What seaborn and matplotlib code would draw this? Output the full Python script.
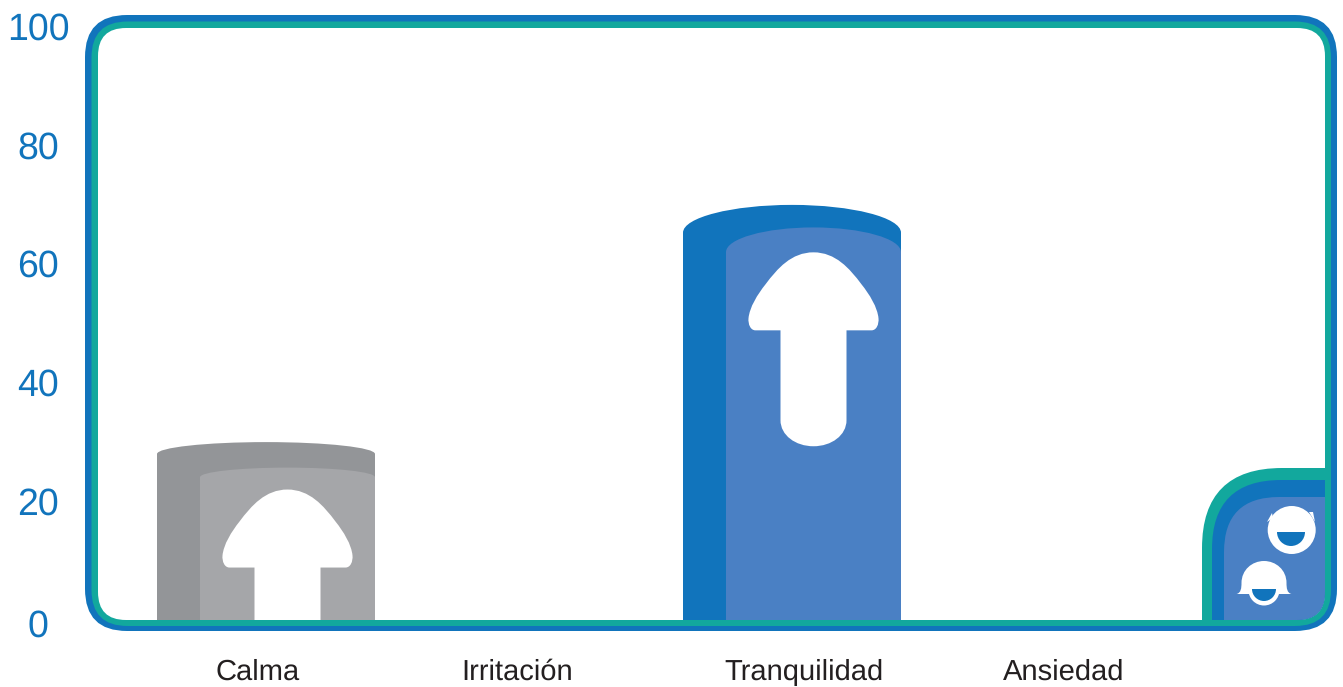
from __future__ import annotations

import matplotlib.pyplot as plt
import seaborn as sns
from matplotlib.patches import Circle, FancyBboxPatch, PathPatch, Wedge
from matplotlib.path import Path
from matplotlib.transforms import IdentityTransform, ScaledTranslation

categories = ['Calma', 'Irritación', 'Tranquilidad', 'Ansiedad']
outer_values = [30, 0, 70, 0]
inner_values = [25.7, 0, 66.2, 0]
arrow_tops = [22, 0, 62, 0]
arrow_tails = [0, 0, 29.3, 0]
y_ticks = [0, 20, 40, 60, 80, 100]

outer_colors = ['#939598', '#939598', '#1174bc', '#1174bc']
inner_colors = ['#a5a6a9', '#a5a6a9', '#4a80c4', '#4a80c4']
BLUE = '#1174bc'
LIGHT = '#4a80c4'
TEAL = '#12a89d'

W, H = 1343, 687
AX_L, AX_R, AX_T, AX_B = 98, 1325, 27, 620
CAT_PX = 263
FIRST_CAT = 266
UNIT_PX = (AX_B - AX_T) / 100

sns.set_theme(style="white")
plt.rcParams['font.family'] = ['Liberation Sans', 'DejaVu Sans']
plt.rcParams['text.hinting'] = 'no_hinting'

fig = plt.figure(figsize=(W / 100, H / 100), dpi=100)
ax = fig.add_axes([AX_L / W, 1 - AX_B / H, (AX_R - AX_L) / W, (AX_B - AX_T) / H])
ax.patch.set_visible(False)


def px_box(x0, y0, x1, y1, r, color, clip=None):
    box = FancyBboxPatch((x0, H - y1), x1 - x0, y1 - y0, boxstyle=f"round,pad=0,rounding_size={r}",
                         fc=color, ec='none', lw=0, transform=IdentityTransform(), zorder=-5)
    if clip is not None:
        box.set_clip_path(clip)
    fig.add_artist(box)
    return box


def dome_bar(x0, x1, top, drop, color):
    mid = (x0 + x1) / 2
    k = 0.55
    verts = [(x0, 0), (x0, top - drop),
             (x0, top - drop + drop * k), (mid - (mid - x0) * k, top), (mid, top),
             (mid + (x1 - mid) * k, top), (x1, top - drop + drop * k), (x1, top - drop),
             (x1, 0), (x0, 0)]
    codes = [Path.MOVETO, Path.LINETO] + [Path.CURVE4] * 6 + [Path.LINETO, Path.CLOSEPOLY]
    ax.add_patch(PathPatch(Path(verts, codes), fc=color, ec='none', lw=0))


def arrow_up(cx, top, tail):
    # shape is drawn in pixels from the tip, then moved to data units
    end = (top - tail) * UNIT_PX
    verts = [(-33, 78), (-58, 78), (-63, 78), (-65.5, 72), (-65, 66), (-64, 55), (-56, 42), (-48, 32),
             (-36, 16), (-22, 0), (0, 0), (22, 0), (36, 16), (48, 32), (56, 42), (64, 55), (65, 66),
             (65.5, 72), (63, 78), (58, 78), (33, 78)]
    codes = [Path.MOVETO, Path.LINETO] + [Path.CURVE4] * 18 + [Path.LINETO]
    if tail > 0:
        verts += [(33, end - 26), (33, end - 11), (18, end), (0, end), (-18, end), (-33, end - 11), (-33, end - 26)]
        codes += [Path.LINETO] + [Path.CURVE4] * 6
    else:
        verts += [(33, end), (-33, end)]
        codes += [Path.LINETO, Path.LINETO]
    verts.append((-33, 78))
    codes.append(Path.CLOSEPOLY)
    data = [(cx + dx / CAT_PX, top - dy / UNIT_PX) for dx, dy in verts]
    ax.add_patch(PathPatch(Path(data, codes), fc='white', ec='none', lw=0))


# frame and the corner tab
px_box(85, 15, 1337, 631, 42, BLUE)
px_box(91.5, 21.5, 1331, 626, 36, TEAL)
inner_box = px_box(98, 28, 1325, 620, 28, 'white')
px_box(1202, 468, 1420, 720, 80, TEAL, clip=inner_box)
px_box(1212, 480, 1420, 720, 69, BLUE, clip=inner_box)
px_box(1224, 497, 1420, 720, 55, LIGHT, clip=inner_box)

# bars
sns.barplot(x=categories, y=outer_values, hue=categories, palette=outer_colors, width=218 / CAT_PX,
            saturation=1, legend=False, ax=ax)
outer_bars = list(ax.patches)
sns.barplot(x=categories, y=inner_values, hue=categories, palette=inner_colors, width=175 / CAT_PX,
            saturation=1, legend=False, ax=ax)
inner_bars = list(ax.patches)[len(outer_bars):]

for outer, inner, top, tail in zip(outer_bars, inner_bars, arrow_tops, arrow_tails):
    if outer.get_height() == 0:
        outer.remove()
        inner.remove()
        continue
    x0, x1 = outer.get_x(), outer.get_x() + outer.get_width()
    h_out, h_in = outer.get_height(), inner.get_height()
    c_out, c_in = outer.get_facecolor(), inner.get_facecolor()
    w_in = inner.get_width()
    outer.remove()
    inner.remove()
    dome_bar(x0, x1, h_out, h_out * 0.067, c_out)
    dome_bar(x1 - w_in, x1, h_in, h_in * 0.063, c_in)
    arrow_up(x1 - w_in / 2, top, tail)

ax.set_xlim((AX_L - FIRST_CAT) / CAT_PX, (AX_R - FIRST_CAT) / CAT_PX)
ax.set_ylim(0, 100)
sns.despine(ax=ax, left=True, bottom=True)
ax.set_xlabel('')
ax.set_ylabel('')
ax.set_yticks(y_ticks)
ax.set_xticks(range(len(categories)), categories)
ax.tick_params(axis='y', length=0, pad=43, labelsize=27, labelcolor=BLUE)
ax.tick_params(axis='x', length=0, pad=28, labelsize=21, labelcolor='#231f20')
for label, shift in zip(ax.get_yticklabels(), [-2.5, 1, 1, 1, 1, 1]):
    label.set_ha('center')
    label.set_transform(label.get_transform() + ScaledTranslation(0, shift / 100, fig.dpi_scale_trans))
for label, shift in zip(ax.get_xticklabels(), [-8, -12, 12, 9]):
    label.set_transform(label.get_transform() + ScaledTranslation(shift / 100, 0, fig.dpi_scale_trans))


def px_add(patch):
    patch.set_transform(IdentityTransform())
    patch.set_zorder(-4)
    patch.set_clip_path(inner_box)
    fig.add_artist(patch)


# male icon
px_add(Circle((1291.7, H - 530), 24, fc='white', ec='none', lw=0))
px_add(PathPatch(Path([(1267, H - 522), (1273, H - 518), (1272, H - 513), (1267, H - 522)],
                      [Path.MOVETO, Path.LINETO, Path.LINETO, Path.CLOSEPOLY]), fc='white', ec='none', lw=0))
px_add(PathPatch(Path([(1315, H - 522), (1309, H - 512), (1313, H - 512), (1315, H - 522)],
                      [Path.MOVETO, Path.LINETO, Path.LINETO, Path.CLOSEPOLY]), fc='white', ec='none', lw=0))
px_add(Wedge((1291, H - 532), 14, 180, 360, fc=BLUE, ec='none', lw=0))

# female icon
hair = [(1236.5, H - 594), (1241, H - 593), (1241.5, H - 588), (1241.5, H - 583),
        (1241.5, H - 570), (1252, H - 561), (1264, H - 561),
        (1276, H - 561), (1286.5, H - 570), (1286.5, H - 583),
        (1286.5, H - 588), (1287, H - 593), (1291.5, H - 594), (1236.5, H - 594)]
hair_codes = [Path.MOVETO] + [Path.CURVE4] * 12 + [Path.CLOSEPOLY]
px_add(PathPatch(Path(hair, hair_codes), fc='white', ec='none', lw=0))
px_add(Circle((1264, H - 590), 15.5, fc='white', ec='none', lw=0))
px_add(Wedge((1264, H - 589), 12, 180, 360, fc=BLUE, ec='none', lw=0))

fig.savefig('out.png', dpi=100)
